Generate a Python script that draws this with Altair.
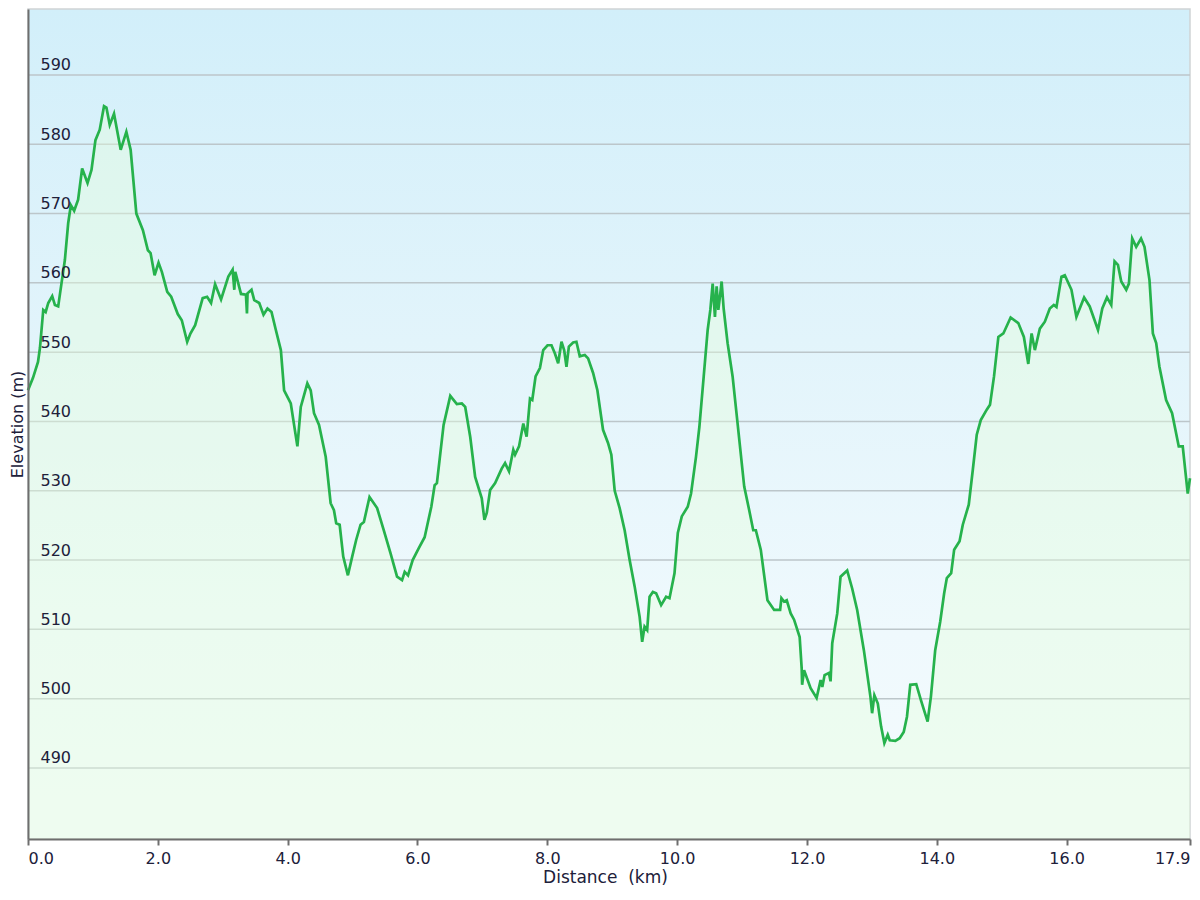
import altair as alt
import pandas as pd

distance_km = [
    0.000, 0.077, 0.154, 0.184, 0.235, 0.272, 0.312, 0.373, 0.415, 0.465,
    0.517, 0.568, 0.619, 0.660, 0.711, 0.772, 0.834, 0.917, 0.978, 1.039,
    1.105, 1.171, 1.208, 1.259, 1.325, 1.428, 1.515, 1.581, 1.669, 1.770,
    1.847, 1.888, 1.950, 2.011, 2.062, 2.145, 2.206, 2.307, 2.369, 2.452,
    2.502, 2.575, 2.691, 2.759, 2.820, 2.882, 2.974, 3.086, 3.152, 3.178,
    3.193, 3.281, 3.357, 3.373, 3.382, 3.443, 3.485, 3.562, 3.628, 3.689,
    3.751,
    3.818, 3.895, 3.945, 4.048, 4.150, 4.202, 4.303, 4.355, 4.406, 4.483,
    4.586, 4.662, 4.713, 4.748, 4.801, 4.856, 4.928, 4.994, 5.055, 5.123,
    5.174, 5.261, 5.378, 5.481, 5.584, 5.685, 5.762, 5.803, 5.854, 5.926,
    6.018, 6.110, 6.213, 6.264, 6.299, 6.402, 6.505, 6.606, 6.683, 6.735,
    6.812, 6.888, 6.990, 7.031, 7.067, 7.119, 7.196, 7.297, 7.349, 7.410,
    7.476, 7.503, 7.564, 7.630, 7.681, 7.733, 7.768, 7.819, 7.886, 7.937,
    8.003, 8.064, 8.117, 8.167, 8.218, 8.259, 8.295, 8.332, 8.398, 8.448,
    8.500, 8.577, 8.628, 8.705, 8.771, 8.858, 8.935, 8.986, 9.038, 9.114,
    9.191, 9.268, 9.345, 9.422, 9.461, 9.498, 9.538, 9.575, 9.626, 9.676,
    9.753, 9.830, 9.882, 9.959, 10.010, 10.071, 10.163, 10.214, 10.290, 10.342,
    10.409, 10.470, 10.511, 10.547, 10.582, 10.608, 10.634, 10.665, 10.685, 10.716,
    10.777, 10.854, 10.931, 11.033, 11.110, 11.172, 11.212, 11.288, 11.391, 11.494,
    11.586, 11.606, 11.647, 11.688, 11.749, 11.801, 11.887, 11.918, 11.925, 11.955,
    12.056, 12.148, 12.210, 12.236, 12.271, 12.338, 12.363, 12.389, 12.466, 12.517,
    12.619, 12.696, 12.773, 12.876, 12.977, 13.003, 13.038, 13.091, 13.141, 13.192,
    13.244, 13.275, 13.361, 13.428, 13.490, 13.540, 13.591, 13.683, 13.755, 13.858,
    13.909, 13.975, 14.052, 14.113, 14.154, 14.221, 14.267, 14.350, 14.400, 14.492,
    14.554, 14.615, 14.677, 14.769, 14.819, 14.881, 14.948, 15.025, 15.137, 15.255,
    15.341, 15.409, 15.460, 15.510, 15.587, 15.664, 15.740, 15.802, 15.843, 15.920,
    15.971, 16.074, 16.150, 16.269, 16.355, 16.483, 16.549, 16.621, 16.687, 16.738,
    16.790, 16.841, 16.918, 16.959, 17.010, 17.071, 17.146, 17.199, 17.276, 17.328,
    17.379, 17.429, 17.532, 17.624, 17.727, 17.788, 17.865, 17.900,
]

elevation_m = [
    544.5, 546.3, 548.6, 550.6, 556.1, 555.8, 557.1, 558.1, 556.8, 556.6,
    560.0, 563.3, 568.6, 571.2, 570.4, 572.0, 576.5, 574.4, 576.3, 580.6,
    582.1, 585.5, 585.3, 582.8, 584.4, 579.2, 581.8, 579.2, 570.0, 567.6,
    564.7, 564.3, 561.1, 562.9, 561.6, 558.7, 558.0, 555.5, 554.6, 551.5,
    552.7, 553.9, 557.8, 558.0, 557.1, 559.8, 557.6, 560.9, 561.9, 559.0,
    561.6, 558.4, 558.3, 555.6, 558.5, 559.0, 557.5, 557.1, 555.4, 556.3,
    555.8,
    553.2, 550.3, 544.5, 542.6, 536.4, 542.1, 545.5, 544.5, 541.2, 539.5,
    534.9, 528.2, 527.2, 525.3, 525.1, 520.5, 517.8, 520.5, 522.9, 525.1,
    525.5, 529.1, 527.5, 524.3, 521.0, 517.6, 517.1, 518.3, 517.8, 520.0,
    521.7, 523.3, 527.7, 530.8, 531.1, 539.5, 543.7, 542.5, 542.6, 542.1,
    537.8, 532.0, 528.9, 525.8, 526.8, 530.1, 531.1, 533.2, 534.0, 532.8,
    535.9, 535.2, 536.4, 539.7, 537.8, 543.3, 543.1, 546.5, 547.7, 550.3,
    551.0, 551.0, 549.8, 548.4, 551.5, 550.3, 547.9, 550.8, 551.4, 551.5,
    549.4, 549.6, 549.1, 547.0, 544.5, 538.8, 536.9, 535.2, 530.0, 527.5,
    524.3, 520.0, 516.2, 511.8, 508.2, 510.4, 509.9, 514.7, 515.4, 515.2,
    513.5, 514.7, 514.5, 518.1, 523.9, 526.3, 527.7, 529.6, 534.9, 539.2,
    546.5, 553.2, 556.1, 559.9, 555.1, 559.5, 556.1, 558.5, 560.2, 556.3,
    551.3, 546.5, 539.7, 530.6, 527.2, 524.3, 524.3, 521.5, 514.2, 512.8,
    512.8, 514.5, 514.0, 514.2, 512.3, 511.4, 508.9, 504.4, 502.0, 504.1,
    501.5, 500.1, 502.7, 501.7, 503.4, 503.7, 502.5, 508.0, 512.3, 517.6,
    518.5, 515.9, 512.8, 507.0, 500.3, 497.9, 500.5, 499.3, 496.0, 493.6,
    494.8, 494.0, 493.9, 494.3, 495.2, 497.4, 502.0, 502.1, 499.8, 496.7,
    500.3, 507.0, 511.1, 515.2, 517.4, 518.1, 521.5, 522.7, 525.1, 528.0,
    533.0, 538.1, 540.2, 541.7, 542.4, 546.5, 552.2, 552.7, 555.0, 554.2,
    552.2, 548.3, 552.7, 550.3, 553.4, 554.4, 556.3, 556.8, 556.5, 560.9,
    561.1, 559.0, 555.1, 557.9, 556.6, 553.2, 556.3, 557.9, 556.8, 563.1,
    562.6, 560.2, 559.0, 559.9, 566.4, 565.2, 566.4, 565.2, 560.4, 552.7,
    551.3, 547.9, 543.1, 541.2, 536.4, 536.4, 529.6, 531.8,
]

x_ticks = [0, 2, 4, 6, 8, 10, 12, 14, 16, 17.9]
y_ticks = [490, 500, 510, 520, 530, 540, 550, 560, 570, 580, 590]
x_domain = [0, 17.9]
y_domain = [479.75, 599.52]

FONT = "DejaVu Sans"
TXT = "#20203a"
AXC = "#6e6e6e"

df = pd.DataFrame({"d": distance_km, "e": elevation_m})
bg_df = pd.DataFrame({"d": [x_domain[0]], "d2": [x_domain[1]],
                      "e": [y_domain[0]], "e2": [y_domain[1]]})
grid_df = pd.DataFrame({"e": y_ticks})

xscale = alt.Scale(domain=x_domain, nice=False, zero=False)
yscale = alt.Scale(domain=y_domain, nice=False, zero=False)

x_axis = alt.Axis(
    values=x_ticks, format=".1f", labelFlush=True, grid=False,
    domainColor=AXC, domainWidth=2, tickColor=AXC, tickWidth=2, tickSize=6,
    labelPadding=5, labelFont=FONT, labelFontSize=16, labelColor=TXT,
    title="Distance\u00a0 (km)", titleFont=FONT, titleFontSize=17,
    titleFontWeight="normal", titleColor=TXT, titleX=577, titleY=43,
    titleBaseline="alphabetic", zindex=1,
)
y_axis = alt.Axis(
    values=y_ticks, grid=False, ticks=False, tickSize=0,
    labelAlign="left", labelPadding=-12, labelBaseline="alphabetic",
    labelOffset=-5, labelFont=FONT, labelFontSize=16, labelColor=TXT,
    domainColor=AXC, domainWidth=2,
    title="Elevation (m)", titleFont=FONT, titleFontSize=16,
    titleFontWeight="normal", titleColor=TXT, titleX=-3, titleY=415,
    titleAngle=270, titleBaseline="bottom", zindex=1,
)

X = alt.X("d:Q", scale=xscale, axis=x_axis)
Y = alt.Y("e:Q", scale=yscale, axis=y_axis)

bg_grad = alt.LinearGradient(
    gradient="linear", x1=0, y1=0, x2=0, y2=1,
    stops=[
        alt.GradientStop(color="#d2effa", offset=0),
        alt.GradientStop(color="#e2f4fb", offset=0.4),
        alt.GradientStop(color="#eff9fd", offset=0.75),
        alt.GradientStop(color="#f4fbfd", offset=1),
    ],
)

background = alt.Chart(bg_df).mark_rect(
    fill=bg_grad, stroke="#cfd3d5", strokeWidth=1.5
).encode(x=X, x2="d2:Q", y=Y, y2="e2:Q")

grid = alt.Chart(grid_df).mark_rule(color="#bcc6ca", strokeWidth=1.5).encode(y=Y)

area = alt.Chart(df).mark_area(color="#e6ffdc", opacity=0.4).encode(
    x=X, y=Y, y2=alt.datum(y_domain[0])
)

line = alt.Chart(df).mark_line(color="#26b24c", strokeWidth=2.7).encode(x=X, y=Y)

chart = alt.layer(background, grid, area, line).properties(
    width=1162,
    height=830,
    autosize=alt.AutoSizeParams(type="none"),
    padding={"left": 20, "top": 1, "right": 2, "bottom": 47},
).configure_view(stroke=None)

chart.save("out.html", embed_options={"renderer": "svg", "actions": False})
